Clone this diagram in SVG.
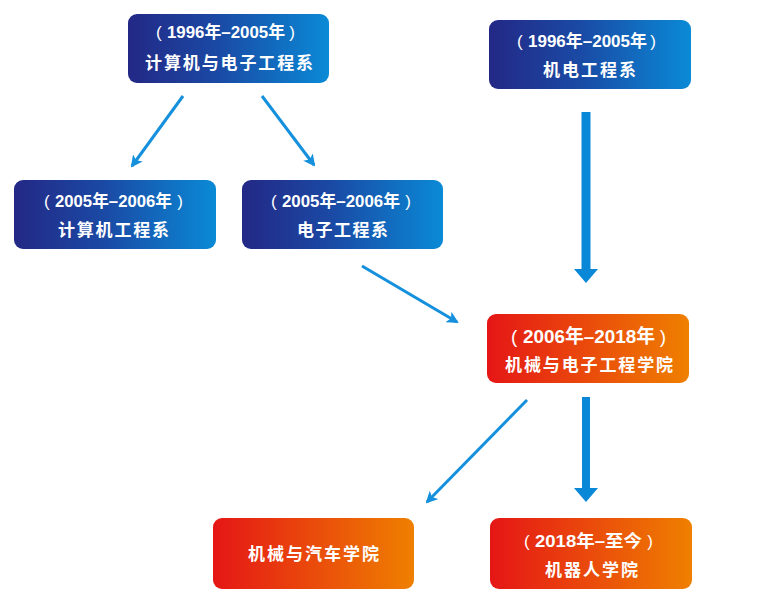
<svg xmlns="http://www.w3.org/2000/svg" width="763" height="599" viewBox="0 0 763 599">
<defs>
<linearGradient id="gb" x1="0" y1="0" x2="1" y2="0">
<stop offset="0" stop-color="#232885"/>
<stop offset="0.45" stop-color="#1a4aa5"/>
<stop offset="1" stop-color="#0a8ad6"/>
</linearGradient>
<linearGradient id="go" x1="0" y1="0" x2="1" y2="0">
<stop offset="0" stop-color="#e51616"/>
<stop offset="1" stop-color="#ef8000"/>
</linearGradient>
<marker id="ah" viewBox="0 0 12 12" refX="10" refY="6" markerWidth="12" markerHeight="12" markerUnits="userSpaceOnUse" orient="auto">
<path d="M0,0 L12,6 L0,12 L3,6 Z" fill="#1590dc"/>
</marker>
<style>
.t{font-family:"Liberation Sans","Noto Sans CJK SC",sans-serif;font-weight:bold;fill:#fff;font-size:17px}
.p{font-family:"Liberation Sans",sans-serif;font-weight:normal;fill:#fff;font-size:17px}
.e{text-anchor:end}
.c{font-family:"Noto Sans CJK SC","Noto Sans",sans-serif;font-weight:bold;fill:#fff;font-size:17px}
.ln{stroke:#1590dc;stroke-width:3;fill:none;marker-end:url(#ah)}
.big{fill:#0a88d8}
</style>
</defs>
<g id="connectors">
<line class="ln" x1="183" y1="96" x2="132" y2="166"/>
<line class="ln" x1="262" y1="96" x2="314" y2="165"/>
<line class="ln" x1="362" y1="266" x2="457" y2="322"/>
<line class="ln" x1="527" y1="400" x2="427" y2="502"/>
<path class="big" d="M581.5,112 H590.5 V269 H598 L586,283 L574,269 H581.5 Z"/>
<path class="big" d="M582,397 H590 V488 H598 L586,502 L574,488 H582 Z"/>
</g>
<g id="n1">
<rect x="128" y="14" width="201" height="69" rx="9" fill="url(#gb)"/>
<text class="p" x="156" y="38">(</text>
<text class="t" x="167" y="38" textLength="118" lengthAdjust="spacingAndGlyphs">1996年–2005年</text>
<text class="p e" x="295" y="38">)</text>
<text class="c" x="145" y="69" textLength="168" lengthAdjust="spacing">计算机与电子工程系</text>
</g>
<g id="n2">
<rect x="489" y="20" width="202" height="69" rx="9" fill="url(#gb)"/>
<text class="p" x="517" y="47">(</text>
<text class="t" x="528" y="47" textLength="119" lengthAdjust="spacingAndGlyphs">1996年–2005年</text>
<text class="p e" x="656" y="47">)</text>
<text class="c" x="543" y="76" textLength="93" lengthAdjust="spacing">机电工程系</text>
</g>
<g id="n3">
<rect x="14" y="180" width="202" height="69" rx="9" fill="url(#gb)"/>
<text class="p" x="44" y="207">(</text>
<text class="t" x="55" y="207" textLength="117" lengthAdjust="spacingAndGlyphs">2005年–2006年</text>
<text class="p e" x="183" y="207">)</text>
<text class="c" x="58" y="236" textLength="111" lengthAdjust="spacing">计算机工程系</text>
</g>
<g id="n4">
<rect x="242" y="180" width="201" height="69" rx="9" fill="url(#gb)"/>
<text class="p" x="271" y="207">(</text>
<text class="t" x="282" y="207" textLength="118" lengthAdjust="spacingAndGlyphs">2005年–2006年</text>
<text class="p e" x="411" y="207">)</text>
<text class="c" x="297" y="236" textLength="91" lengthAdjust="spacing">电子工程系</text>
</g>
<g id="n5">
<rect x="487" y="314" width="202" height="69" rx="9" fill="url(#go)"/>
<text class="p" x="511" y="343" style="font-size:19px">(</text>
<text class="t" x="523" y="343" style="font-size:19px" textLength="132" lengthAdjust="spacingAndGlyphs">2006年–2018年</text>
<text class="p e" x="666" y="343" style="font-size:19px">)</text>
<text class="c" x="505" y="371" textLength="168" lengthAdjust="spacing">机械与电子工程学院</text>
</g>
<g id="n6">
<rect x="213" y="518" width="201" height="71" rx="9" fill="url(#go)"/>
<text class="c" x="248" y="560" textLength="131" lengthAdjust="spacing">机械与汽车学院</text>
</g>
<g id="n7">
<rect x="490" y="518" width="202" height="71" rx="9" fill="url(#go)"/>
<text class="p" x="524" y="547">(</text>
<text class="t" x="535" y="547" textLength="107" lengthAdjust="spacingAndGlyphs">2018年–至今</text>
<text class="p e" x="653" y="547">)</text>
<text class="c" x="545" y="576" textLength="93" lengthAdjust="spacing">机器人学院</text>
</g>
</svg>
